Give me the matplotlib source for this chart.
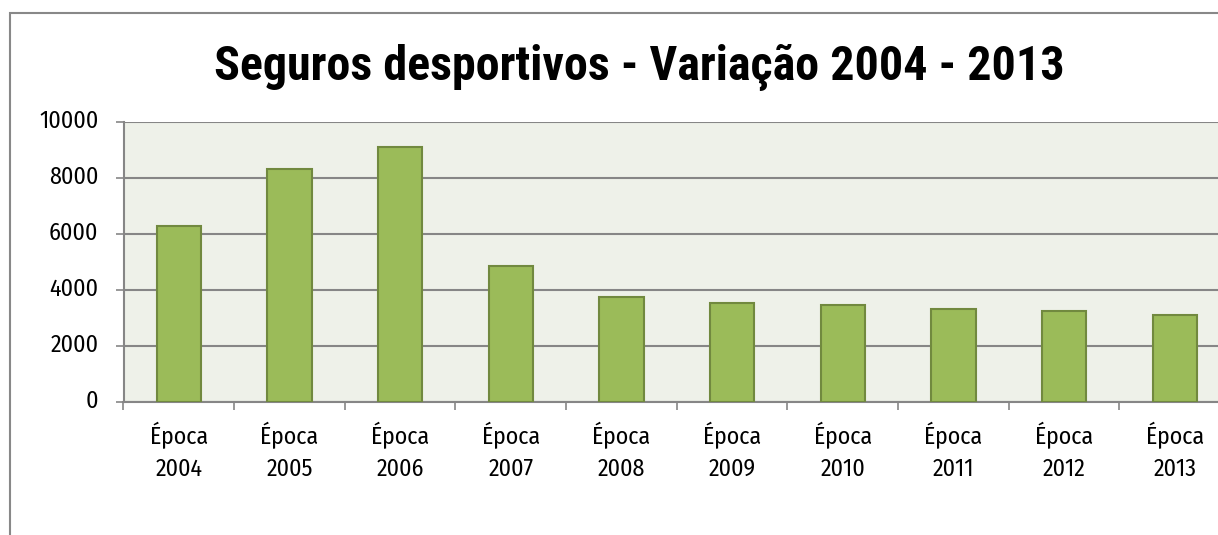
import matplotlib
matplotlib.use("Agg")
import matplotlib.pyplot as plt
from matplotlib.patches import Rectangle
from matplotlib import font_manager
from matplotlib.font_manager import FontProperties
from matplotlib.textpath import TextPath
from matplotlib.transforms import ScaledTranslation

categories = ["Época\n2004", "Época\n2005", "Época\n2006", "Época\n2007", "Época\n2008",
              "Época\n2009", "Época\n2010", "Época\n2011", "Época\n2012", "Época\n2013"]
values = [6300, 8330, 9100, 4870, 3760, 3550, 3480, 3310, 3250, 3110]
yticks = [0, 2000, 4000, 6000, 8000, 10000]
title = "Seguros desportivos - Variação 2004 - 2013"

names = {f.name for f in font_manager.fontManager.ttflist}
candidates = ["Liberation Sans Narrow", "Arial Narrow", "Archivo Narrow", "PT Sans Narrow",
              "Roboto Condensed", "Open Sans Condensed", "Fira Sans Condensed",
              "IBM Plex Sans Condensed", "Encode Sans Condensed", "Sofia Sans Condensed",
              "Asap Condensed", "Barlow Semi Condensed", "Pragati Narrow", "Liberation Sans"]
candidates = [c for c in candidates if c in names] or ["DejaVu Sans"]


def ratio(fam, s, weight):
    tp = TextPath((0, 0), s, size=100, prop=FontProperties(family=fam, weight=weight))
    e = tp.get_extents()
    return e.width / e.height


def pick(s, target, weight):
    best = None
    for c in candidates:
        try:
            r = ratio(c, s, weight)
        except Exception:
            continue
        d = abs(r - target)
        if best is None or d < best[0]:
            best = (d, c)
    return best[1]


lab_font = pick("2004", 48 / 17.5, "normal")
tit_font = None
for c in ["Liberation Sans Narrow", "Arial Narrow", "Roboto Condensed", "PT Sans Narrow"]:
    if c in names:
        tit_font = c
        break
if tit_font is None:
    tit_font = lab_font


def size_for_width(fam, s, weight, width_px):
    tp = TextPath((0, 0), s, size=100, prop=FontProperties(family=fam, weight=weight))
    w = tp.get_extents().width
    return 100 * width_px / (w * 100 / 72)


lab_size = size_for_width(lab_font, "2004", "normal", 46)
tit_size = size_for_width(tit_font, title, "bold", 845)

W, H = 1218, 535
fig = plt.figure(figsize=(W / 100, H / 100), dpi=100)
fig.patch.set_facecolor("white")

# outer chart border
fig.patches.append(Rectangle((10 / W, -0.1), 1.2, 1 - 13 / H + 0.1, transform=fig.transFigure,
                             facecolor="none", edgecolor="#888888", linewidth=1.5))

left, right = 123.5 / W, 1230 / W
bottom, top = 1 - 402 / H, 1 - 122 / H
ax = fig.add_axes([left, bottom, right - left, top - bottom])
ax.set_facecolor("#EEF1E9")

x = list(range(len(categories)))
ax.bar(x, values, width=0.4, color="#9BBB59", edgecolor="#71893F", linewidth=1.5, zorder=3)
ax.set_xlim(-0.5, len(categories) - 0.5)
ax.set_ylim(0, 10000)
ax.set_yticks(yticks)
ax.set_yticklabels([str(v) for v in yticks], fontfamily=lab_font, fontsize=lab_size)
ax.set_xticks(x)
ax.set_xticklabels(categories, fontfamily=lab_font, fontsize=lab_size, linespacing=1.5)
ax.grid(axis="y", color="#868686", linewidth=1.5, zorder=1)
for s in ["top", "right"]:
    ax.spines[s].set_visible(False)
for s in ["left", "bottom"]:
    ax.spines[s].set_color("#868686")
    ax.spines[s].set_linewidth(1.5)
ax.tick_params(axis="y", length=6, width=1.2, color="#868686", pad=12, direction="out")
ax.tick_params(axis="x", length=0, pad=14)
ax.set_xticks([i - 0.5 for i in range(len(categories) + 1)], minor=True)
ax.tick_params(axis="x", which="minor", length=6, width=1.2, color="#868686", direction="out")

shift = ScaledTranslation(0, 3 / 100, fig.dpi_scale_trans)
for lab in ax.get_yticklabels():
    lab.set_transform(lab.get_transform() + shift)

fig.text(639.5 / W, 1 - 80 / H, title, ha="center", va="baseline", fontfamily=tit_font,
         fontweight="bold", fontsize=tit_size)

fig.savefig("out.png", dpi=100)
